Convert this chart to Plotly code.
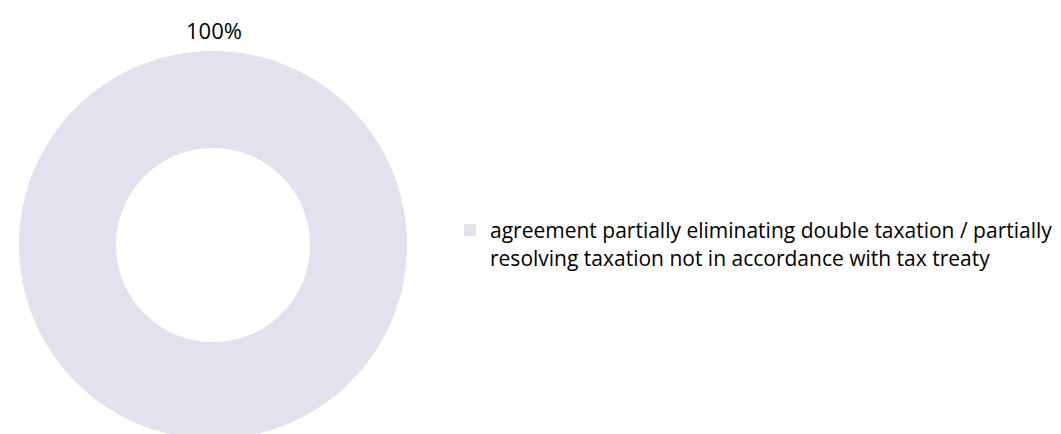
import plotly.graph_objects as go

labels = ["agreement partially eliminating double taxation / partially<br>resolving taxation not in accordance with tax treaty"]
values = [100]
colors = ["#E5E0ED"]

W, H = 1061, 434
total = sum(values)
share_text = f"{round(values[0] / total * 100)}%"

fig = go.Figure(go.Pie(
    labels=labels,
    values=values,
    hole=0.5,
    sort=False,
    direction="clockwise",
    marker=dict(colors=colors, line=dict(width=0)),
    textinfo="none",
    hoverinfo="label+percent",
    domain=dict(x=[11 / W, 399 / W], y=[(H - 431) / H, (H - 43) / H]),
))

fig.add_annotation(
    x=206 / W, y=1 - 22 / H, xref="paper", yref="paper",
    text=share_text, showarrow=False,
    font=dict(family="Open Sans", size=22, color="#000000"),
    xanchor="center", yanchor="middle",
)

fig.update_layout(
    width=W, height=H,
    margin=dict(l=0, r=0, t=0, b=0),
    paper_bgcolor="white",
    plot_bgcolor="white",
    showlegend=True,
    legend=dict(
        x=442 / W, y=1 - 236 / H, xanchor="left", yanchor="middle",
        font=dict(family="Open Sans", size=21, color="#000000"),
        valign="top",
        bgcolor="rgba(0,0,0,0)",
    ),
)

fig.write_html("out.html")
